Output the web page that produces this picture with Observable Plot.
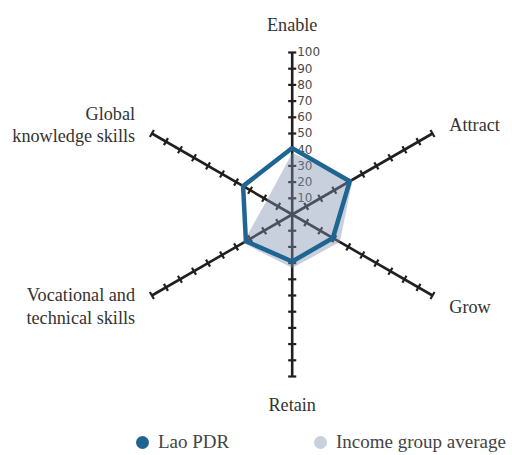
<!DOCTYPE html>
<html>
<head>
<meta charset="utf-8">
<script src="https://cdn.jsdelivr.net/npm/d3@7"></script>
<script src="https://cdn.jsdelivr.net/npm/@observablehq/plot@0.6"></script>
<style>
  body { margin: 0; background: #fff; }
  #chart svg { display: block; }
  #legend { position: relative; height: 30px; font-family: "Liberation Serif", serif; font-size: 19px; color: #444; }
  #legend .item { position: absolute; top: 6px; display: flex; align-items: center; }
  #legend .dot { width: 13px; height: 13px; border-radius: 50%; margin-right: 9px; }
</style>
</head>
<body>
<div id="chart"></div>
<div id="legend"></div>
<script>
// ---- data ----
const axisNames = ["Enable", "Attract", "Grow", "Retain", "Vocational and\ntechnical skills", "Global\nknowledge skills"];
const laoValues = [41, 41, 29, 29, 33, 35];
const incomeValues = [38, 43, 34, 33, 35, 18];
const tickValues = [10, 20, 30, 40, 50, 60, 70, 80, 90, 100];
const seriesNames = ["Lao PDR", "Income group average"];
const maxValue = 100;

// ---- layout / style ----
const W = 512, H = 425;
const cx = 291.7, cy = 214, pxPerUnit = 1.62;
const angles = [90, 30, -30, -90, 210, 150].map(a => a * Math.PI / 180);
const blue = "#1f6592", fillGray = "#8092b0", axisColor = "#231f20";

const pt = (i, v) => ({x: v * Math.cos(angles[i]), y: v * Math.sin(angles[i])});

const axisLines = axisNames.map((n, i) => ({x1: 0, y1: 0, x2: pt(i, maxValue).x, y2: pt(i, maxValue).y}));
const tickLen = 2.5;
const tickSegs = [];
axisNames.forEach((n, i) => {
  const a = angles[i];
  const px = -Math.sin(a), py = Math.cos(a);
  tickValues.forEach(t => {
    const p = pt(i, t);
    tickSegs.push({x1: p.x - px * tickLen, y1: p.y - py * tickLen, x2: p.x + px * tickLen, y2: p.y + py * tickLen});
  });
});
const lao = laoValues.map((v, i) => pt(i, v));
const income = incomeValues.map((v, i) => pt(i, v));
const tickLabels = tickValues.map(t => ({...pt(0, t), label: String(t)}));

const labelR = [118, 112, 112, 117, 112, 112];
const labelAnchor = ["middle", "start", "start", "middle", "end", "end"];
const labels = axisNames.map((n, i) => ({...pt(i, labelR[i]), name: n, anchor: labelAnchor[i]}));

const xDomain = [-cx / pxPerUnit, (W - cx) / pxPerUnit];
const yDomain = [-(H - cy) / pxPerUnit, cy / pxPerUnit];

const labelFont = {fontFamily: "Liberation Serif", fontSize: 18.2, fill: "#333", lineHeight: 1.25};

const chart = Plot.plot({
  width: W, height: H,
  margin: 0,
  x: {domain: xDomain, range: [0, W], axis: null},
  y: {domain: yDomain, range: [H, 0], axis: null},
  style: {background: "#fff"},
  marks: [
    Plot.link(axisLines, {x1: "x1", y1: "y1", x2: "x2", y2: "y2", stroke: axisColor, strokeWidth: 2.6}),
    Plot.link(tickSegs, {x1: "x1", y1: "y1", x2: "x2", y2: "y2", stroke: axisColor, strokeWidth: 2.2}),
    Plot.text(tickLabels, {x: "x", y: "y", text: "label", textAnchor: "start", dx: 5, fontFamily: "DejaVu Sans", fontSize: 12, fill: "#4a4a4a"}),
    Plot.line(income, {x: "x", y: "y", curve: "linear-closed", fill: fillGray, fillOpacity: 0.43, stroke: "none"}),
    Plot.line(lao, {x: "x", y: "y", curve: "linear-closed", stroke: blue, strokeWidth: 4.5, strokeLinejoin: "miter"}),
    ...labels.map(l => Plot.text([l], {x: "x", y: "y", text: "name", textAnchor: l.anchor, ...labelFont}))
  ]
});
document.getElementById("chart").append(chart);

// legend
const legend = document.getElementById("legend");
const legendColors = [blue, "#c8d0de"];
const legendLeft = [136, 314];
seriesNames.forEach((s, i) => {
  const item = document.createElement("div");
  item.className = "item";
  item.style.left = legendLeft[i] + "px";
  const dot = document.createElement("span");
  dot.className = "dot";
  dot.style.background = legendColors[i];
  const txt = document.createElement("span");
  txt.textContent = s;
  item.append(dot, txt);
  legend.append(item);
});
</script>
</body>
</html>
